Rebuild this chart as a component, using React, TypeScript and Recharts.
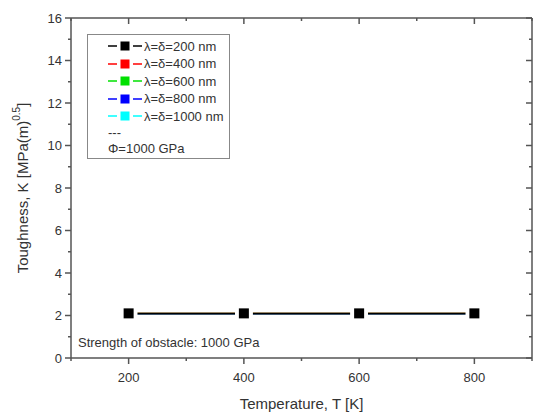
import React from "react";
import { LineChart, Line, XAxis, YAxis } from "recharts";

const temperatures = [200, 400, 600, 800];
const toughness200 = [2.1, 2.1, 2.1, 2.1];
const toughness400 = [2.1, 2.1, 2.1, 2.1];
const toughness600 = [2.09, 2.09, 2.09, 2.09];
const toughness800 = [2.08, 2.08, 2.08, 2.08];
const toughness1000 = [2.07, 2.07, 2.07, 2.07];

const seriesKeys = ["s200", "s400", "s600", "s800", "s1000"];
const seriesNames = ["λ=δ=200 nm", "λ=δ=400 nm", "λ=δ=600 nm", "λ=δ=800 nm", "λ=δ=1000 nm"];
const seriesColors = ["#000000", "#ff0000", "#00e000", "#0000ff", "#00ffff"];
const seriesValues = [toughness200, toughness400, toughness600, toughness800, toughness1000];

const xMajorTicks = [200, 400, 600, 800];
const xAllTicks = [100, 200, 300, 400, 500, 600, 700, 800, 900];
const yAllTicks = [0, 1, 2, 3, 4, 5, 6, 7, 8, 9, 10, 11, 12, 13, 14, 15, 16];

const data = temperatures.map((t, i) => {
  const row: any = { T: t };
  seriesKeys.forEach((k, j) => (row[k] = seriesValues[j][i]));
  return row;
});

const axisColor = "#555";
const textColor = "#333";
const font = "'Liberation Sans', Arial, sans-serif";

const BottomTick = (props: any) => {
  const { x, y, payload } = props;
  const major = xMajorTicks.includes(payload.value);
  return (
    <g>
      <line x1={x} x2={x} y1={y} y2={y + (major ? 6 : 3)} stroke={axisColor} strokeWidth={1.5} />
      {major && (
        <text x={x} y={y + 19} textAnchor="middle" dominantBaseline="central" fontSize={13} fill={textColor} fontFamily={font}>
          {payload.value}
        </text>
      )}
    </g>
  );
};

const TopTick = (props: any) => {
  const { x, y, payload } = props;
  const major = xMajorTicks.includes(payload.value);
  return <line x1={x} x2={x} y1={y} y2={y + (major ? 6 : 3)} stroke={axisColor} strokeWidth={1.5} />;
};

const LeftTick = (props: any) => {
  const { x, y, payload } = props;
  const major = payload.value % 2 === 0;
  return (
    <g>
      <line x1={x - (major ? 6 : 3)} x2={x} y1={y} y2={y} stroke={axisColor} strokeWidth={1.5} />
      {major && (
        <text x={x - 9} y={y} textAnchor="end" dominantBaseline="central" fontSize={13} fill={textColor} fontFamily={font}>
          {payload.value}
        </text>
      )}
    </g>
  );
};

const RightTick = (props: any) => {
  const { x, y, payload } = props;
  const major = payload.value % 2 === 0;
  return <line x1={x - (major ? 6 : 3)} x2={x} y1={y} y2={y} stroke={axisColor} strokeWidth={1.5} />;
};

const YTitle = (props: any) => {
  const vb = props.viewBox || {};
  const cx = 22;
  const cy = vb.y + vb.height / 2;
  return (
    <text x={cx} y={cy} transform={`rotate(-90 ${cx} ${cy})`} textAnchor="middle" dominantBaseline="central" fontSize={15} fill={textColor} fontFamily={font}>
      <tspan>Toughness, K [MPa(m)</tspan>
      <tspan dy={-6} fontSize={10}>0.5</tspan>
      <tspan dy={6}>]</tspan>
    </text>
  );
};

const XTitle = (props: any) => {
  const vb = props.viewBox || {};
  return (
    <text x={vb.x + vb.width / 2} y={403} textAnchor="middle" dominantBaseline="central" fontSize={15} fill={textColor} fontFamily={font}>
      Temperature, T [K]
    </text>
  );
};

// square marker with a white halo so the line stops short of it
const squareDot = (color: string) => (props: any) => {
  const { cx, cy, index } = props;
  return (
    <rect
      key={`d-${index}`}
      x={cx - 5}
      y={cy - 5}
      width={10}
      height={10}
      fill={color}
      stroke="#fff"
      strokeWidth={7}
      paintOrder="stroke"
    />
  );
};

const Swatch = ({ color }: { color: string }) => (
  <svg width={34} height={12} style={{ display: "block" }}>
    <line x1={0} x2={9} y1={6} y2={6} stroke={color} strokeWidth={1.5} />
    <line x1={25} x2={34} y1={6} y2={6} stroke={color} strokeWidth={1.5} />
    <rect x={12.5} y={1.5} width={9} height={9} fill={color} />
  </svg>
);

export default function App() {
  const drawOrder = [4, 3, 2, 1, 0];
  return (
    <div style={{ position: "absolute", left: 0, top: 0, width: 534, height: 417, background: "#fff", fontFamily: font }}>
      <LineChart width={534} height={417} data={data} margin={{ top: 17, right: 1, left: 0, bottom: 0 }}>
        <XAxis
          dataKey="T"
          type="number"
          domain={[100, 900]}
          ticks={xAllTicks}
          allowDataOverflow
          height={59}
          stroke={axisColor}
          strokeWidth={1.5}
          tickLine={false}
          tickSize={0}
          tickMargin={0}
          tick={<BottomTick />}
          interval={0}
          label={{ content: <XTitle /> } as any}
        />
        <XAxis
          xAxisId="top"
          orientation="top"
          dataKey="T"
          type="number"
          domain={[100, 900]}
          ticks={xAllTicks}
          allowDataOverflow
          height={1}
          stroke={axisColor}
          strokeWidth={1.5}
          tickLine={false}
          tickSize={0}
          tickMargin={0}
          tick={<TopTick />}
          interval={0}
        />
        <YAxis
          type="number"
          domain={[0, 16]}
          ticks={yAllTicks}
          allowDataOverflow
          width={71}
          stroke={axisColor}
          strokeWidth={1.5}
          tickLine={false}
          tickSize={0}
          tickMargin={0}
          tick={<LeftTick />}
          interval={0}
          label={{ content: <YTitle /> } as any}
        />
        <YAxis
          yAxisId="right"
          orientation="right"
          type="number"
          domain={[0, 16]}
          ticks={yAllTicks}
          allowDataOverflow
          width={1}
          stroke={axisColor}
          strokeWidth={1.5}
          tickLine={false}
          tickSize={0}
          tickMargin={0}
          tick={<RightTick />}
          interval={0}
        />
        {drawOrder.map((i) => (
          <Line
            key={seriesKeys[i]}
            dataKey={seriesKeys[i]}
            name={seriesNames[i]}
            stroke={seriesColors[i]}
            strokeWidth={1.5}
            dot={squareDot(seriesColors[i])}
            activeDot={false}
            isAnimationActive={false}
          />
        ))}
      </LineChart>

      <div
        style={{
          position: "absolute",
          left: 87,
          top: 34,
          width: 143,
          height: 125,
          border: "1px solid #888",
          boxSizing: "border-box",
          fontSize: 13,
          color: textColor,
        }}
      >
        {seriesNames.map((n, i) => (
          <div key={n} style={{ position: "absolute", left: 20, top: 3 + i * 17.5, height: 16, display: "flex", alignItems: "center" }}>
            <Swatch color={seriesColors[i]} />
            <span style={{ marginLeft: 2, whiteSpace: "nowrap" }}>{n}</span>
          </div>
        ))}
        <div style={{ position: "absolute", left: 20, top: 90, fontSize: 13, lineHeight: "16px" }}>---</div>
        <div style={{ position: "absolute", left: 20, top: 106, whiteSpace: "nowrap", lineHeight: "16px" }}>Φ=1000 GPa</div>
      </div>

      <div style={{ position: "absolute", left: 78, top: 335, fontSize: 13, color: textColor, whiteSpace: "nowrap", lineHeight: "16px" }}>
        Strength of obstacle: 1000 GPa
      </div>
    </div>
  );
}
